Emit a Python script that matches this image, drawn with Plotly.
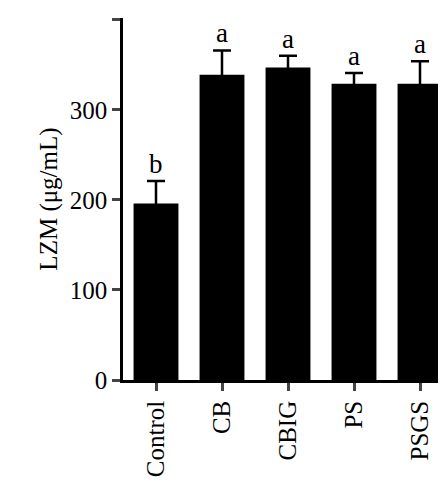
import plotly.graph_objects as go

groups = ['Control', 'CB', 'CBIG', 'PS', 'PSGS']
lzm = [196, 339, 347, 329, 329]
lzm_err = [25, 27, 13, 12, 25]
letters = ['b', 'a', 'a', 'a', 'a']

font = dict(family='Liberation Serif, serif', size=25, color='black')

fig = go.Figure(go.Bar(x=groups, y=lzm, width=0.68, marker=dict(color='black', line_width=0),
                       error_y=dict(type='data', array=lzm_err, color='black', thickness=2.5, width=9)))

for g, v, e, t in zip(groups, lzm, lzm_err, letters):
    fig.add_annotation(x=g, y=v + e, text=t, showarrow=False, yanchor='bottom', yshift=0,
                       font=dict(family='Liberation Serif, serif', size=27, color='black'))

fig.update_layout(width=446, height=500, margin=dict(l=115, r=1, t=10, b=128),
                  plot_bgcolor='white', paper_bgcolor='white', font=font, showlegend=False,
                  yaxis=dict(range=[0, 402], tickvals=[0, 100, 200, 300, 400], ticks='outside',
                             ticklen=8, tickwidth=2.5, showline=True, linewidth=2.5, linecolor='black',
                             showgrid=False, zeroline=False, tickfont=font,
                             title=dict(text='LZM (μg/mL)', standoff=6, font=font)),
                  xaxis=dict(tickangle=-90, ticks='outside', ticklen=8, tickwidth=2.5, showline=True,
                             linewidth=2.5, linecolor='black', range=[-0.5, 4.5], tickfont=font))

fig.write_html("out.html")
